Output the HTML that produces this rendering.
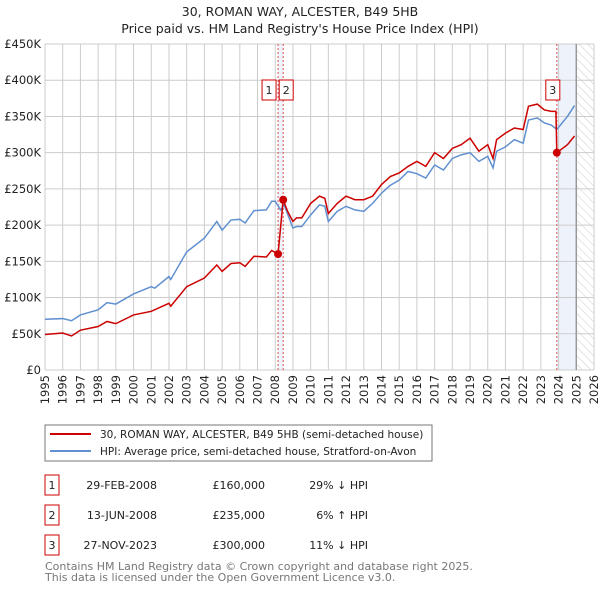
<!DOCTYPE html>
<html><head><meta charset="utf-8"><style>
body{margin:0;background:#fff;font-family:"DejaVu Sans","Liberation Sans",sans-serif;}
svg text{font-family:"DejaVu Sans","Liberation Sans",sans-serif;}
</style></head><body>
<svg id="chart" width="600" height="590" xmlns="http://www.w3.org/2000/svg">
<defs><pattern id="hatch" width="6" height="6" patternUnits="userSpaceOnUse" patternTransform="rotate(-45)"><line x1="0" y1="0" x2="0" y2="6" stroke="#ccc" stroke-width="1"/></pattern></defs>
<text x="300" y="16" text-anchor="middle" font-size="12.5" fill="#222">30, ROMAN WAY, ALCESTER, B49 5HB</text>
<text x="300" y="33" text-anchor="middle" font-size="12.5" fill="#222">Price paid vs. HM Land Registry's House Price Index (HPI)</text>
<g id="plot"></g>
<g>
<rect x="45" y="425" width="387" height="36" fill="#fff" stroke="#777"/>
<line x1="50" y1="434" x2="91" y2="434" stroke="#cc0000" stroke-width="2"/>
<text x="100" y="438" font-size="10.5" fill="#222">30, ROMAN WAY, ALCESTER, B49 5HB (semi-detached house)</text>
<line x1="50" y1="451" x2="91" y2="451" stroke="#6090d0" stroke-width="2"/>
<text x="100" y="455" font-size="10.5" fill="#222">HPI: Average price, semi-detached house, Stratford-on-Avon</text>
</g>
<g id="table"></g>
<text x="45" y="570" font-size="11" fill="#777">Contains HM Land Registry data © Crown copyright and database right 2025.</text>
<text x="45" y="581" font-size="11" fill="#777">This data is licensed under the Open Government Licence v3.0.</text>
</svg>
<script>
const hpiYears=[1995,1996,1996.5,1997,1998,1998.5,1999,2000,2001,2001.2,2002,2002.1,2003,2004,2004.7,2005,2005.5,2006,2006.3,2006.8,2007.5,2007.8,2008,2008.3,2008.5,2009,2009.2,2009.5,2010,2010.5,2010.8,2011,2011.5,2012,2012.5,2013,2013.5,2014,2014.5,2015,2015.5,2016,2016.5,2017,2017.5,2018,2018.5,2019,2019.5,2020,2020.3,2020.5,2021,2021.5,2022,2022.3,2022.8,2023.2,2023.6,2023.9,2024.5,2024.9];
const hpiValues=[70,71,68,76,83,93,91,105,115,113,129,125,163,182,205,193,207,208,203,220,221,233,233,221,228,196,198,198,214,228,226,205,219,226,221,219,230,244,255,262,274,271,265,283,276,292,297,300,288,295,279,302,308,318,313,345,348,341,338,332,350,365];
const ppYears=[1995,1996,1996.5,1997,1998,1998.5,1999,2000,2001,2002,2002.1,2003,2004,2004.7,2005,2005.5,2006,2006.3,2006.8,2007.5,2007.8,2008.16,2008.45,2008.7,2009,2009.2,2009.5,2010,2010.5,2010.8,2011,2011.5,2012,2012.5,2013,2013.5,2014,2014.5,2015,2015.5,2016,2016.5,2017,2017.5,2018,2018.5,2019,2019.5,2020,2020.3,2020.5,2021,2021.5,2022,2022.3,2022.8,2023.2,2023.6,2023.85,2023.9,2024.5,2024.9];
const ppValues=[49,51,47,55,60,67,64,76,81,92,88,115,127,145,136,147,148,143,157,156,165,160,235,219,205,210,210,230,240,237,216,230,240,235,235,240,256,267,272,281,288,281,300,292,306,311,320,302,311,292,318,327,334,332,364,367,359,357,357,300,311,323];
const saleYears=[2008.16,2008.45,2023.9];
const saleValues=[160,235,300];
const saleLabels=["1","2","3"];
const saleDates=["29-FEB-2008","13-JUN-2008","27-NOV-2023"];
const salePrices=["£160,000","£235,000","£300,000"];
const saleDiffs=["29% ↓ HPI","6% ↑ HPI","11% ↓ HPI"];
const yTicks=[0,50,100,150,200,250,300,350,400,450];
const yTickLabels=["£0","£50K","£100K","£150K","£200K","£250K","£300K","£350K","£400K","£450K"];
const xTicks=[1995,1996,1997,1998,1999,2000,2001,2002,2003,2004,2005,2006,2007,2008,2009,2010,2011,2012,2013,2014,2015,2016,2017,2018,2019,2020,2021,2022,2023,2024,2025,2026];

const NS="http://www.w3.org/2000/svg";
const L=45,R=594,T=44,B=370;
const X=y=>L+(y-1995)/(2026-1995)*(R-L);
const Y=v=>B-v/450*(B-T);
const plot=document.getElementById('plot');
function mk(tag,attrs,parent){const e=document.createElementNS(NS,tag);for(const k in attrs)e.setAttribute(k,attrs[k]);(parent||plot).appendChild(e);return e;}

let e;
e=mk('rect',{x:X(2025),y:T,width:R-X(2025),height:B-T,fill:'url(#hatch)'});


e=mk('rect',{x:X(saleYears[0]),y:T,width:X(saleYears[1])-X(saleYears[0]),height:B-T,fill:'#eef3fb'});


e=mk('rect',{x:X(saleYears[2]),y:T,width:X(2025)-X(saleYears[2]),height:B-T,fill:'#eef3fb'});



yTicks.forEach((v,i)=>{
  e=mk('line',{x1:L,x2:R,y1:Y(v),y2:Y(v),stroke:'#ccc','stroke-width':1});
  
  
  e=mk('text',{x:L-4,y:Y(v)+4,'text-anchor':'end','font-size':'11.5',fill:'#222'});
  e.textContent=yTickLabels[i];
  
  
});
xTicks.forEach(yr=>{
  e=mk('line',{x1:X(yr),x2:X(yr),y1:T,y2:B,stroke:'#ccc','stroke-width':1});
  
  
  e=mk('text',{transform:`translate(${X(yr)+4},${B+5}) rotate(-90)`,'text-anchor':'end','font-size':'11.5',fill:'#222'});
  e.textContent=yr;
  
  
});
e=mk('line',{x1:X(2025),x2:X(2025),y1:T,y2:B,stroke:'#999','stroke-width':1.5});


saleYears.forEach(yr=>{
  e=mk('line',{x1:X(yr),x2:X(yr),y1:T,y2:B,stroke:'#e05050','stroke-width':1,'stroke-dasharray':'2,2'});
  
  
});
e=mk('polyline',{points:hpiYears.map((y,i)=>X(y)+','+Y(hpiValues[i])).join(' '),fill:'none',stroke:'#6090d0','stroke-width':1.5});


e=mk('polyline',{points:ppYears.map((y,i)=>X(y)+','+Y(ppValues[i])).join(' '),fill:'none',stroke:'#cc0000','stroke-width':1.5});


const boxOffsets=[-9,3,-4];
saleYears.forEach((yr,i)=>{
  e=mk('circle',{cx:X(yr),cy:Y(saleValues[i]),r:4,fill:'#cc0000'});
  
  
  const cx=X(yr)+boxOffsets[i];
  const g=mk('g',{});
  
  
  mk('rect',{x:cx-7,y:80,width:14,height:20,fill:'#fff',stroke:'#cc0000'},g);
  const t=mk('text',{x:cx,y:94,'text-anchor':'middle','font-size':'11',fill:'#222'},g);
  t.textContent=saleLabels[i];
});

const tb=document.getElementById('table');
saleLabels.forEach((lab,i)=>{
  const y0=475+i*30;
  const g=mk('g',{},tb);
  
  
  mk('rect',{x:45,y:y0,width:14,height:20,fill:'#fff',stroke:'#cc0000'},g);
  let t=mk('text',{x:52,y:y0+14,'text-anchor':'middle','font-size':'11',fill:'#222'},g);t.textContent=lab;
  t=mk('text',{x:157,y:y0+14,'text-anchor':'end','font-size':'11',fill:'#222'},g);t.textContent=saleDates[i];
  t=mk('text',{x:265,y:y0+14,'text-anchor':'end','font-size':'11',fill:'#222'},g);t.textContent=salePrices[i];
  t=mk('text',{x:368,y:y0+14,'text-anchor':'end','font-size':'11',fill:'#222'},g);t.textContent=saleDiffs[i];
});
</script>
</body></html>
